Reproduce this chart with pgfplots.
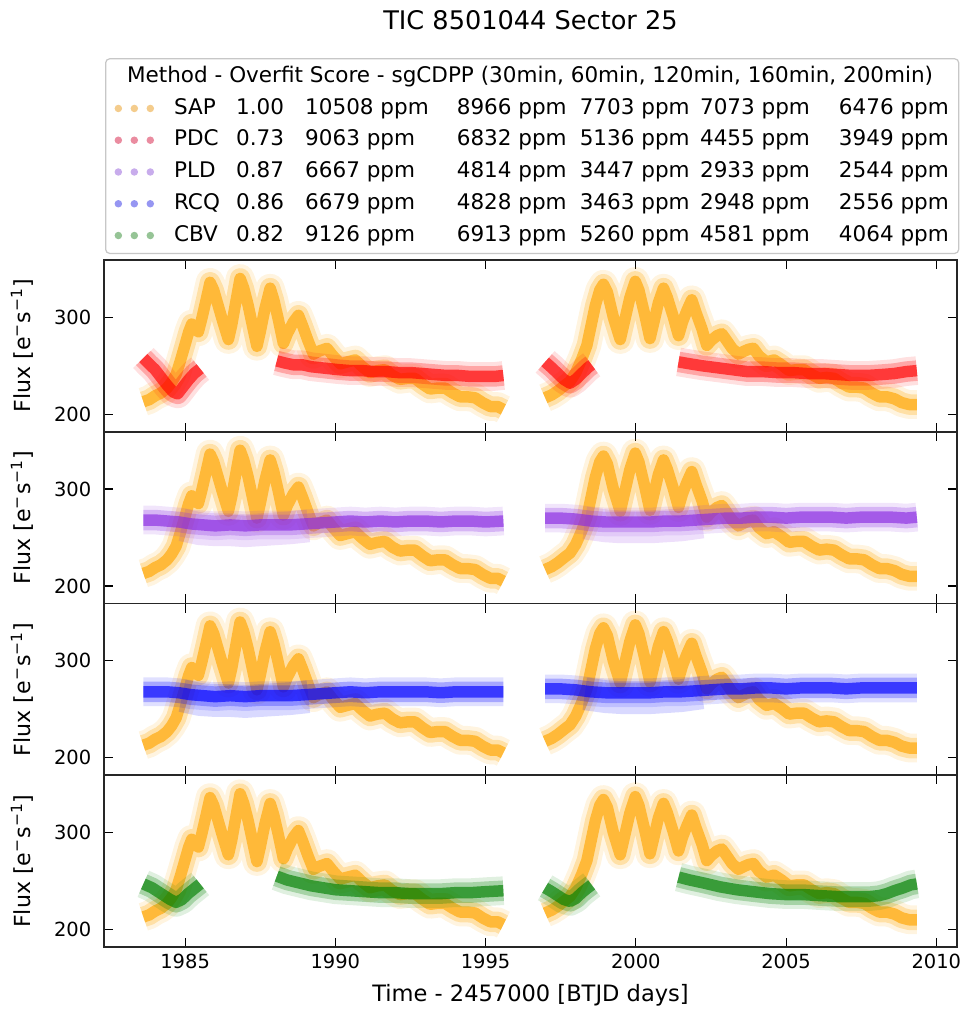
\documentclass[border=0pt]{standalone}
\usepackage{fontspec}
\setmainfont{DejaVu Sans}
\usepackage{pgfplots}
\pgfplotsset{compat=1.18}
\usepackage{pgfplotstable}

\definecolor{sapC}{RGB}{255,165,0}
\definecolor{pdcC}{RGB}{255,0,0}
\definecolor{pldC}{RGB}{138,43,226}
\definecolor{rcqC}{RGB}{0,0,255}
\definecolor{cbvC}{RGB}{0,128,0}
\definecolor{sapL}{RGB}{244,204,140}
\definecolor{pdcL}{RGB}{234,140,160}
\definecolor{pldL}{RGB}{200,172,236}
\definecolor{rcqL}{RGB}{150,150,242}
\definecolor{cbvL}{RGB}{150,196,150}

\pgfplotstableread{
x y
1983.61 213
1983.8 215
1984.0 219
1984.2 222
1984.4 227
1984.55 233
1984.7 241
1984.85 256
1985.0 272
1985.12 285
1985.22 293
1985.33 288
1985.44 285
1985.55 298
1985.7 318
1985.83 336
1985.95 328
1986.1 312
1986.25 296
1986.44 277
1986.55 292
1986.7 318
1986.83 340
1986.95 330
1987.1 312
1987.25 290
1987.39 270
1987.5 285
1987.65 308
1987.83 330
1987.95 318
1988.1 298
1988.27 273
1988.4 283
1988.6 295
1988.77 302
1988.9 292
1989.1 275
1989.27 262
1989.45 265
1989.72 268
1989.9 261
1990.16 252
1990.4 254
1990.66 256
1990.9 249
1991.15 243
1991.4 245
1991.65 246
1991.9 240
1992.15 236
1992.4 237
1992.65 237
1992.9 231
1993.15 226
1993.4 227
1993.65 227
1993.9 222
1994.15 218
1994.4 218
1994.65 217
1994.9 212
1995.15 208
1995.4 208
1995.59 205
1996.3 nan
1996.98 217
1997.2 220
1997.4 224
1997.6 229
1997.81 234
1998.0 243
1998.2 257
1998.37 271
1998.5 290
1998.65 312
1998.8 328
1998.92 334
1999.05 326
1999.25 300
1999.48 277
1999.6 293
1999.8 320
1999.98 337
2000.1 328
2000.3 302
2000.47 278
2000.6 295
2000.75 315
2000.92 330
2001.05 320
2001.25 300
2001.42 281
2001.55 295
2001.7 307
2001.86 318
2002.0 305
2002.2 288
2002.36 271
2002.5 276
2002.7 281
2002.86 283
2003.0 277
2003.2 268
2003.41 262
2003.6 265
2003.75 267
2003.91 268
2004.1 260
2004.35 254
2004.6 256
2004.85 251
2005.1 245
2005.35 246
2005.6 246
2005.85 241
2006.1 237
2006.35 238
2006.6 237
2006.85 232
2007.1 228
2007.35 228
2007.6 227
2007.85 222
2008.1 218
2008.35 218
2008.6 216
2008.85 212
2009.1 210
2009.35 210
}\sap

\pgfplotstableread{
x y
1983.61 258
1983.8 252
1984.0 246
1984.2 238
1984.4 230
1984.6 223
1984.75 221
1984.9 227
1985.1 235
1985.3 242
1985.5 247
1986.5 nan
1988.05 255
1988.3 253
1988.6 251
1988.9 251
1989.2 249
1989.5 248
1989.8 247
1990.1 246
1990.5 245
1990.9 245
1991.3 244
1991.7 244
1992.1 243
1992.5 243
1992.9 242
1993.3 241
1993.7 240
1994.1 240
1994.5 239
1994.9 239
1995.3 239
1995.59 240
1996.3 nan
1996.98 254
1997.2 248
1997.4 242
1997.6 236
1997.81 232
1998.0 236
1998.2 242
1998.4 248
1998.53 251
2000.0 nan
2001.42 254
2001.8 252
2002.2 250
2002.7 248
2003.2 246
2003.7 244
2004.2 244
2004.7 243
2005.2 243
2005.7 242
2006.2 242
2006.7 241
2007.2 240
2007.7 240
2008.2 241
2008.6 242
2009.0 244
2009.35 245
}\pdc

\pgfplotstableread{
x y
1983.61 268
1984.0 268
1984.4 267
1984.8 266
1985.2 264
1985.6 263
1986.0 262
1986.5 263
1987.0 262
1987.5 263
1988.0 263
1988.5 263
1989.0 264
1989.5 265
1990.0 266
1990.5 267
1991.0 266
1991.5 267
1992.0 266
1992.5 267
1993.0 267
1993.5 266
1994.0 267
1994.5 267
1995.0 266
1995.59 267
1996.3 nan
1996.98 270
1997.5 270
1998.0 269
1998.5 267
1999.0 266
1999.5 266
2000.0 266
2000.5 266
2001.0 267
2001.5 267
2002.0 268
2002.5 269
2003.0 270
2003.5 270
2004.0 271
2004.5 271
2005.0 270
2005.5 271
2006.0 271
2006.5 271
2007.0 270
2007.5 271
2008.0 271
2008.5 271
2009.0 270
2009.35 271
}\pld

\pgfplotstableread{
x y
1984.9 263
1985.5 259
1986.0 258
1986.5 258
1987.0 257
1987.5 258
1988.0 259
1988.5 260
1989.1 262
1996.3 nan
1998.3 265
1999.0 262
1999.5 261
2000.0 261
2000.5 261
2001.0 262
2001.5 263
2002.2 266
}\pldscat

\pgfplotstableread{
x y
1983.61 268
1984.0 268
1984.4 268
1984.8 267
1985.2 265
1985.6 264
1986.0 263
1986.5 264
1987.0 263
1987.5 264
1988.0 264
1988.5 264
1989.0 265
1989.5 266
1990.0 267
1990.5 268
1991.0 267
1991.5 268
1992.0 268
1992.5 268
1993.0 268
1993.5 267
1994.0 268
1994.5 268
1995.0 268
1995.59 268
1996.3 nan
1996.98 271
1997.5 271
1998.0 270
1998.5 268
1999.0 267
1999.5 267
2000.0 267
2000.5 267
2001.0 268
2001.5 268
2002.0 269
2002.5 270
2003.0 271
2003.5 271
2004.0 272
2004.5 272
2005.0 271
2005.5 272
2006.0 272
2006.5 272
2007.0 271
2007.5 272
2008.0 272
2008.5 272
2009.0 272
2009.35 272
}\rcq

\pgfplotstableread{
x y
1984.9 264
1985.5 260
1986.0 259
1986.5 259
1987.0 258
1987.5 259
1988.0 260
1988.5 261
1989.1 263
1996.3 nan
1998.3 266
1999.0 263
1999.5 262
2000.0 262
2000.5 262
2001.0 263
2001.5 264
2002.2 267
}\rcqscat

\pgfplotstableread{
x y
1983.61 247
1983.9 243
1984.2 237
1984.5 231
1984.7 228
1984.9 231
1985.1 237
1985.3 242
1985.5 247
1986.5 nan
1988.05 255
1988.4 251
1988.8 248
1989.2 245
1989.6 243
1990.0 241
1990.5 240
1991.0 239
1991.5 238
1992.0 238
1992.5 237
1993.0 237
1993.5 237
1994.0 238
1994.5 238
1995.0 239
1995.59 240
1996.3 nan
1996.98 243
1997.2 239
1997.4 235
1997.6 231
1997.81 229
1998.0 232
1998.2 238
1998.4 243
1998.53 246
2000.0 nan
2001.42 254
2001.8 251
2002.25 248
2002.8 244
2003.36 241
2003.9 239
2004.47 237
2005.0 236
2005.58 236
2006.1 235
2006.69 234
2007.2 234
2007.8 234
2008.1 235
2008.35 237
2008.6 240
2008.9 243
2009.15 246
2009.35 247
}\cbv

\newcommand\lrow[7]{\makebox[30.3pt][l]{#1}\makebox[33.7pt][l]{#2}\makebox[74pt][l]{#3 ppm}\makebox[60pt][l]{#4 ppm}\makebox[58.7pt][l]{#5 ppm}\makebox[67.8pt][l]{#6 ppm}#7 ppm}

\pgfplotsset{
  fringe/.style={no marks, line width=14pt, draw opacity=0.12, color=#1, line join=round, forget plot},
  band/.style={no marks, line width=10pt, draw opacity=0.26, color=#1, line join=round, forget plot},
  core/.style={no marks, line width=5.6pt, draw opacity=0.66, color=#1, line join=round, forget plot},
  scat/.style={no marks, line width=16pt, draw opacity=0.15, color=#1, line join=round, forget plot},
  dotleg/.style={legend image code/.code={\fill[#1] (0pt,0pt) circle (1.5pt); \fill[#1] (7.8pt,0pt) circle (1.5pt); \fill[#1] (15.6pt,0pt) circle (1.5pt);}},
  panel/.style={
    scale only axis, width=416.3pt, height=83.81pt,
    xmin=1982.30, xmax=2010.69, ymin=182, ymax=359,
    xtick={1985,1990,1995,2000,2005,2010}, ytick={200,300},
    tick align=inside, tick pos=both, major tick length=4.4pt,
    tick style={black, line width=0.6pt},
    axis line style={line width=0.75pt, black!85},
    unbounded coords=jump,
    /pgf/number format/assume math mode=true,
    /pgf/number format/set thousands separator={},
    ticklabel style={font=\fontsize{9.5}{11}\selectfont},
    yticklabel style={xshift=-2.7pt},
    ylabel={Flux [e\textsuperscript{−}s\textsuperscript{−1}]},
    every axis y label/.style={at={(axis description cs:-0.0962,0.5)}, rotate=90, anchor=center, font=\fontsize{10.8}{12}\selectfont},
  },
}

\begin{document}
\begin{tikzpicture}
% Panel 1: SAP + PDC
\begin{axis}[panel, at={(0pt,0pt)}, anchor=north west, xticklabels={},
  title={TIC 8501044 Sector 25},
  title style={at={(axis description cs:0.5,2.327)}, anchor=center, font=\fontsize{12.5}{15}\selectfont},
  legend style={at={(axis description cs:0,1)}, anchor=south west, xshift=0.5pt, yshift=2.9pt,
    draw=black!22, rounded corners=2pt, line width=0.6pt, fill=white,
    inner xsep=4.4pt, inner ysep=3.9pt, row sep=5.8pt, column sep=9.8pt,
    font=\fontsize{10.5}{12}\selectfont,
    nodes={inner sep=0pt, text height=7.6pt, text depth=2.1pt}},
  legend cell align=left]
\addplot[fringe=sapC] table {\sap};
\addplot[band=sapC] table {\sap};
\addplot[core=sapC] table {\sap};
\addplot[fringe=pdcC] table {\pdc};
\addplot[band=pdcC] table {\pdc};
\addplot[core=pdcC] table {\pdc};
\addlegendimage{empty legend}
\addlegendentry{\makebox[378.5pt][c]{\hspace*{-31pt}Method - Overfit Score - sgCDPP (30min, 60min, 120min, 160min, 200min)}}
\addlegendimage{dotleg=sapL}
\addlegendentry{\lrow{SAP}{1.00}{10508}{8966}{7703}{7073}{6476}}
\addlegendimage{dotleg=pdcL}
\addlegendentry{\lrow{PDC}{0.73}{9063}{6832}{5136}{4455}{3949}}
\addlegendimage{dotleg=pldL}
\addlegendentry{\lrow{PLD}{0.87}{6667}{4814}{3447}{2933}{2544}}
\addlegendimage{dotleg=rcqL}
\addlegendentry{\lrow{RCQ}{0.86}{6679}{4828}{3463}{2948}{2556}}
\addlegendimage{dotleg=cbvL}
\addlegendentry{\lrow{CBV}{0.82}{9126}{6913}{5260}{4581}{4064}}
\end{axis}
% Panel 2: SAP + PLD
\begin{axis}[panel, at={(0pt,-83.81pt)}, anchor=north west, xticklabels={}]
\addplot[fringe=sapC] table {\sap};
\addplot[band=sapC] table {\sap};
\addplot[core=sapC] table {\sap};
\addplot[scat=pldC] table {\pldscat};
\addplot[fringe=pldC] table {\pld};
\addplot[band=pldC] table {\pld};
\addplot[core=pldC] table {\pld};
\end{axis}
% Panel 3: SAP + RCQ
\begin{axis}[panel, at={(0pt,-167.62pt)}, anchor=north west, xticklabels={}]
\addplot[fringe=sapC] table {\sap};
\addplot[band=sapC] table {\sap};
\addplot[core=sapC] table {\sap};
\addplot[scat=rcqC] table {\rcqscat};
\addplot[fringe=rcqC] table {\rcq};
\addplot[band=rcqC] table {\rcq};
\addplot[core=rcqC] table {\rcq};
\end{axis}
% Panel 4: SAP + CBV
\begin{axis}[panel, at={(0pt,-251.43pt)}, anchor=north west,
  xlabel={Time - 2457000 [BTJD days]},
  every axis x label/.style={at={(axis description cs:0.5,-0.2795)}, anchor=center, font=\fontsize{11}{13}\selectfont}]
\addplot[fringe=sapC] table {\sap};
\addplot[band=sapC] table {\sap};
\addplot[core=sapC] table {\sap};
\addplot[fringe=cbvC] table {\cbv};
\addplot[band=cbvC] table {\cbv};
\addplot[core=cbvC] table {\cbv};
\end{axis}
\pgfresetboundingbox
\path[use as bounding box] (-50.75pt,126.88pt) rectangle (420.66pt,-365.5pt);
\end{tikzpicture}
\end{document}
